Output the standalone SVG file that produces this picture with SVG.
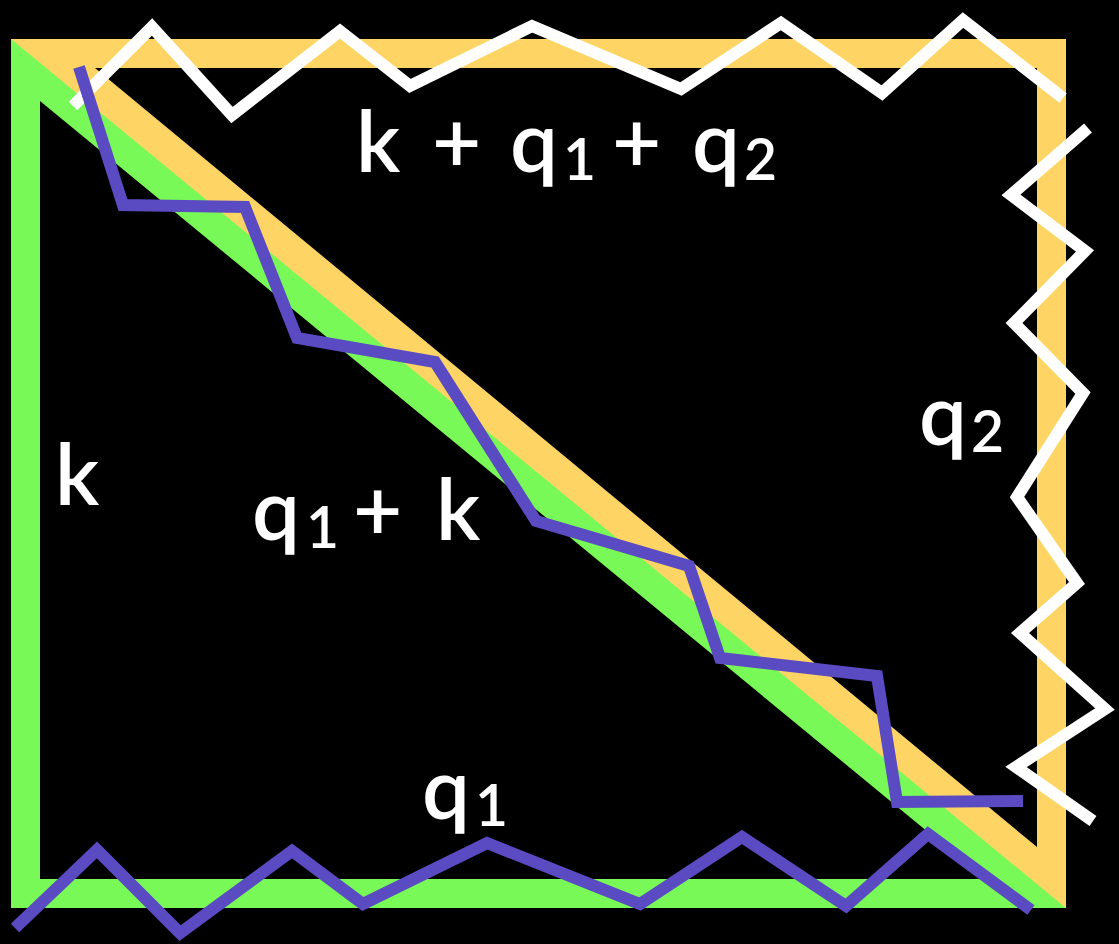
<svg xmlns="http://www.w3.org/2000/svg" width="1119" height="944" viewBox="0 0 1119 944">
<style>
.zz{fill:none;stroke-width:12;stroke-linejoin:miter;stroke-miterlimit:10;stroke-linecap:butt}
.w{stroke:#ffffff}
.p{stroke:#5a4bc2}
.lbl{font-family:Lato,"Open Sans","DejaVu Sans",sans-serif;font-size:85px;font-weight:600;fill:#ffffff}
.sub{font-size:57px}
</style>
<rect width="1119" height="944" fill="#000000"/>
<g id="yellow-band">
<path d="M11,39 L1066,39 L1066,908 L1056,908 L11,47 Z M95,68 L1037,847 L1037,68 Z" fill="#fed564" fill-rule="evenodd"/>
</g>
<g id="green-band">
<path d="M11,39 L1066,908 L11,908 Z M40,101 L40,879 L985,879 Z" fill="#78f957" fill-rule="evenodd"/>
</g>
<g id="connectors">
<polyline id="white-top" class="zz w" points="73,106 152,27 232,115 340,31 410,86 532,26 681,89 781,23 882,93 963,20 1063,98"/>
<polyline id="white-right" class="zz w" points="1088,128 1011,195 1085,251 1014,323 1083,393 1017,497 1077,583 1020,633 1105,709 1016,767 1093,821"/>
<polyline id="purple-diag" class="zz p" points="79,67 123,205 245,207 297,338 435,362 536,521 689,566 720,658 877,676 897,802 1023,801"/>
<polyline id="purple-bottom" class="zz p" points="15,928 97,850 180,933 292,851 363,904 487,843 640,904 742,837 846,906 928,834 1031,910"/>
</g>
<g id="label-top">
<text class="lbl" y="172"><tspan x="356">k</tspan><tspan x="432">+</tspan><tspan x="510">q</tspan><tspan class="sub" x="563" dy="8">1</tspan><tspan x="612" dy="-8">+</tspan><tspan x="692">q</tspan><tspan class="sub" x="744" dy="8">2</tspan></text>
</g>
<g id="label-q2">
<text class="lbl" y="445"><tspan x="919">q</tspan><tspan class="sub" x="971" dy="7">2</tspan></text>
</g>
<g id="label-k">
<text class="lbl" x="55" y="505">k</text>
</g>
<g id="label-q1k">
<text class="lbl" y="540"><tspan x="252">q</tspan><tspan class="sub" x="306" dy="8">1</tspan><tspan x="353" dy="-8">+</tspan><tspan x="436">k</tspan></text>
</g>
<g id="label-q1">
<text class="lbl" y="819"><tspan x="422">q</tspan><tspan class="sub" x="475" dy="7">1</tspan></text>
</g>
</svg>
